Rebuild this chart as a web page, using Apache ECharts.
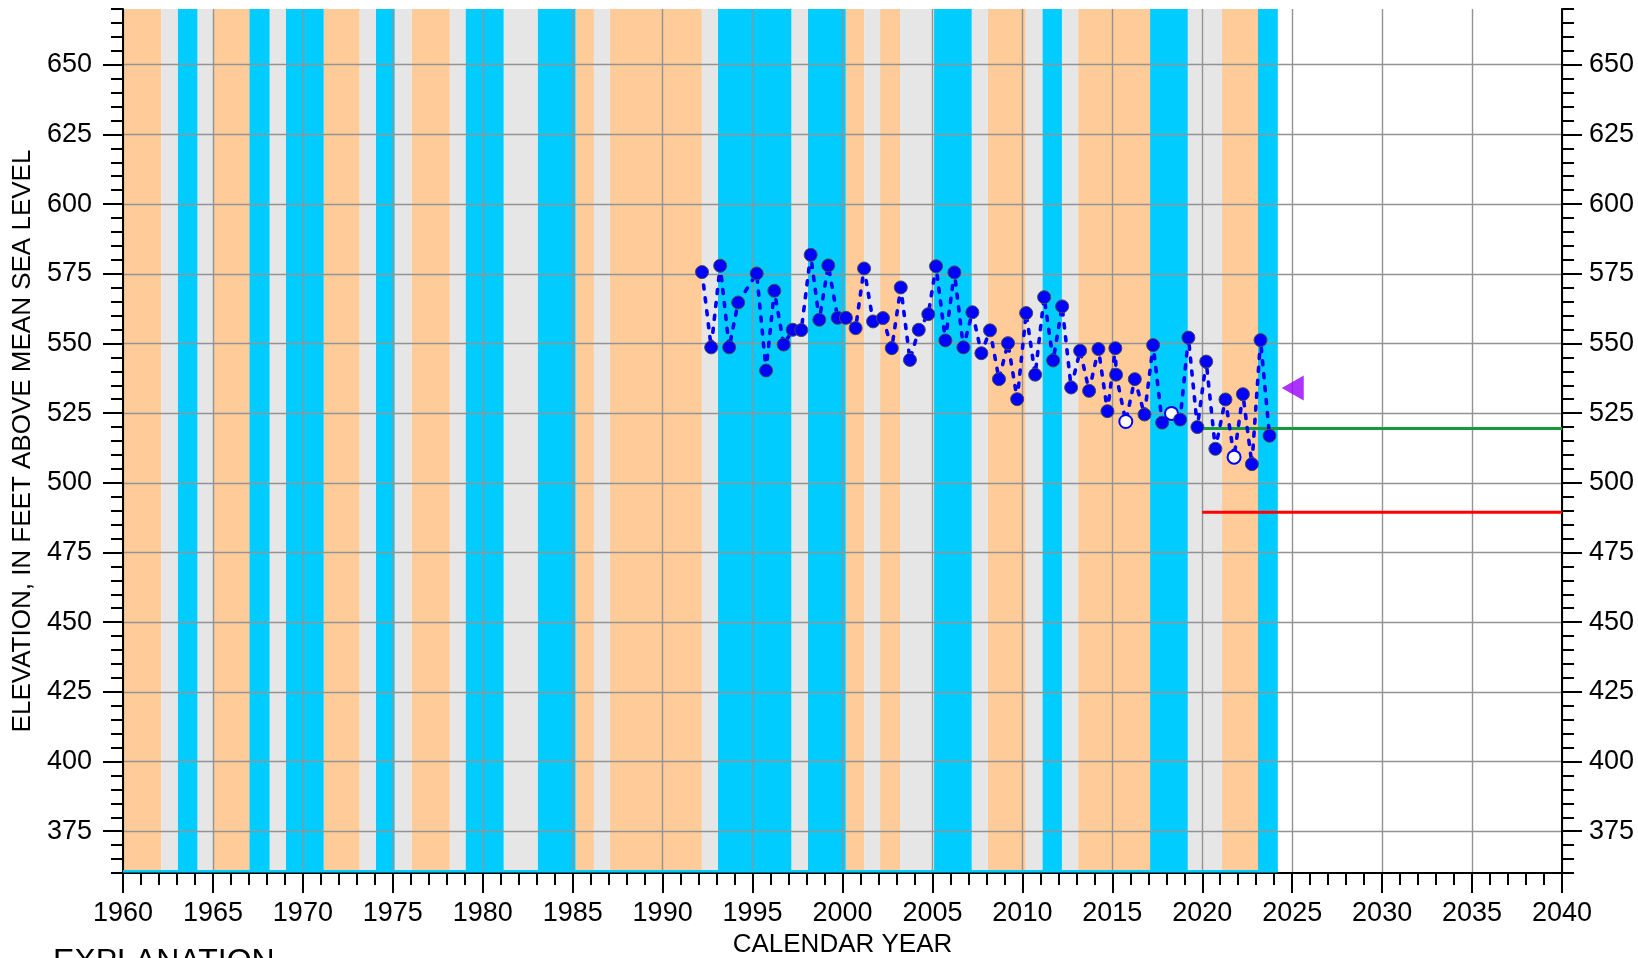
<!DOCTYPE html>
<html>
<head>
<meta charset="utf-8">
<title>Groundwater elevation</title>
<script src="https://cdn.jsdelivr.net/npm/echarts@6/dist/echarts.min.js"></script>
<style>
  html, body { margin: 0; padding: 0; background: #fff; }
  #chart { width: 1638px; height: 958px; }
</style>
</head>
<body>
<div id="chart"></div>
<script>
// measured water levels (decimal year, feet above MSL)
const years = [
  1992.19, 1992.70, 1993.20, 1993.70, 1994.20, 1995.23, 1995.75, 1996.21, 1996.73, 1997.23,
  1997.71, 1998.23, 1998.71, 1999.21, 1999.73, 2000.19, 2000.73, 2001.20, 2001.70, 2002.25,
  2002.74, 2003.24, 2003.75, 2004.24, 2004.77, 2005.20, 2005.72, 2006.22, 2006.72, 2007.22,
  2007.72, 2008.20, 2008.70, 2009.20, 2009.71, 2010.21, 2010.71, 2011.21, 2011.71, 2012.21,
  2012.71, 2013.21, 2013.71, 2014.23, 2014.73, 2015.17, 2015.21, 2015.75, 2016.25, 2016.79,
  2017.27, 2017.77, 2018.29, 2018.77, 2019.23, 2019.73, 2020.22, 2020.73, 2021.29, 2021.77,
  2022.26, 2022.76, 2023.24, 2023.74
]
const levels = [
  575.6, 548.6, 577.9, 548.6, 564.7, 575.1, 540.3, 568.9, 549.6, 554.9,
  554.8, 581.8, 558.5, 578.0, 559.2, 559.2, 555.5, 576.9, 557.9, 559.1,
  548.3, 570.1, 544.1, 554.9, 560.5, 577.7, 551.1, 575.5, 548.6, 561.2,
  546.5, 554.7, 537.2, 550.1, 530.0, 560.9, 538.8, 566.6, 543.9, 563.3,
  534.2, 547.4, 533.0, 548.0, 525.7, 548.3, 538.8, 522.0, 537.2, 524.5,
  549.4, 521.6, 524.9, 522.7, 552.1, 520.0, 543.5, 512.2, 529.9, 509.2,
  531.8, 506.7, 551.2, 516.9
]
// measurements drawn as open circles
const openYears = [2015.75, 2018.29, 2021.77]

// climate bands
const dryPeriods = [
  [1960.0, 1962.13], [1965.03, 1967.03], [1971.16, 1973.16], [1976.04, 1978.17],
  [1985.16, 1986.18], [1987.07, 1992.18], [2000.18, 2001.2], [2002.09, 2003.2],
  [2008.09, 2010.19], [2013.1, 2017.1], [2021.1, 2023.1]
]
const wetPeriods = [
  [1963.04, 1964.15], [1967.03, 1968.16], [1969.05, 1971.16], [1974.05, 1975.11],
  [1979.04, 1981.17], [1983.05, 1985.16], [1993.07, 1997.17], [1998.08, 2000.18],
  [2005.09, 2007.19], [2011.11, 2012.2], [2017.1, 2019.2], [2023.1, 2024.2]
]
const normalPeriods = [
  [1962.13, 1963.04], [1964.15, 1965.03], [1968.16, 1969.05], [1973.16, 1974.05],
  [1975.11, 1976.04], [1978.17, 1979.04], [1981.17, 1983.05], [1986.18, 1987.07],
  [1992.18, 1993.07], [1997.17, 1998.08], [2001.2, 2002.09], [2003.2, 2005.09],
  [2007.19, 2008.09], [2010.19, 2011.11], [2012.2, 2013.1], [2019.2, 2021.1]
]
const stripYears = [1960, 2024.2]

// reference levels
const lineYears = [2020, 2040]
const greenLevel = 519.5
const redLevel = 489.4
const purplePoint = [2025.03, 534]

const yTicks = [375, 400, 425, 450, 475, 500, 525, 550, 575, 600, 625, 650]
const Y_MIN = 360
const Y_MAX = 670

const FONT = '"Liberation Sans", Arial, sans-serif'
const bandColors = ['#FECB99', '#00CCFF', '#E6E6E6']

const bands = []
dryPeriods.forEach(p => bands.push([p[0], p[1], 0]))
wetPeriods.forEach(p => bands.push([p[0], p[1], 1]))
normalPeriods.forEach(p => bands.push([p[0], p[1], 2]))

const axisLine = {show: true, onZero: false, lineStyle: {color: '#000', width: 2}}
const tickStyle = {color: '#000', width: 2}
const gridStyle = {color: '#939393', width: 1.4}
const labelStyle = {fontSize: 27, color: '#000', fontFamily: FONT}
const titleStyle = {fontSize: 26, color: '#000', fontFamily: FONT}

function minorY (position) {
  return {
    type: 'value', position, min: Y_MIN, max: Y_MAX, interval: 5, z: 1,
    axisLine,
    axisTick: {length: 12, lineStyle: tickStyle},
    axisLabel: {show: false},
    splitLine: {show: false},
  }
}

function majorY (position, extra) {
  return Object.assign({
    type: 'value', position, min: Y_MIN, max: Y_MAX, z: 1,
    axisLine: {show: false, onZero: false},
    axisTick: {length: 20, lineStyle: tickStyle, customValues: yTicks},
    axisLabel: Object.assign({customValues: yTicks, margin: position === 'left' ? 31 : 27}, labelStyle),
    splitLine: {show: false},
  }, extra)
}

const openStyle = {color: '#fff', borderColor: '#0000FF', borderWidth: 2}

const chart = echarts.init(document.getElementById('chart'))
chart.setOption({
  animation: false,
  grid: {left: 123, right: 76, top: 9, bottom: 85, outerBoundsMode: 'none'},
  xAxis: {
    type: 'value', min: 1960, max: 2040, interval: 5, z: 1,
    name: 'CALENDAR YEAR', nameLocation: 'middle', nameGap: 57,
    nameTextStyle: titleStyle,
    axisLine,
    axisTick: {length: 20, lineStyle: tickStyle},
    minorTick: {show: true, splitNumber: 5, length: 12, lineStyle: tickStyle},
    axisLabel: Object.assign({margin: 27, formatter: v => String(v)}, labelStyle),
    splitLine: {show: true, lineStyle: gridStyle},
  },
  yAxis: [
    minorY('left'),
    majorY('left', {
      name: 'ELEVATION, IN FEET ABOVE MEAN SEA LEVEL',
      nameLocation: 'middle', nameGap: 84,
      nameTextStyle: titleStyle,
      splitLine: {show: true, lineStyle: gridStyle},
    }),
    minorY('right'),
    majorY('right'),
  ],
  graphic: [{
    type: 'text', left: 53, top: 946,
    style: {text: 'EXPLANATION', fontSize: 32, fill: '#000', fontFamily: FONT},
  }],
  series: [
    {
      type: 'custom', z: 0, silent: true,
      encode: {x: [0, 1]},
      data: bands,
      renderItem: (params, api) => {
        const p0 = api.coord([api.value(0), Y_MAX])
        const p1 = api.coord([api.value(1), Y_MIN])
        return {
          type: 'rect',
          shape: {x: p0[0], y: p0[1], width: p1[0] - p0[0], height: p1[1] - p0[1]},
          style: {fill: bandColors[api.value(2)]},
        }
      },
    },
    {
      type: 'line', z: 2, silent: true, symbol: 'none',
      data: stripYears.map(x => [x, Y_MIN + 0.6]),
      lineStyle: {color: '#00CCFF', width: 2.5},
    },
    {
      type: 'line', z: 3, silent: true, symbol: 'none',
      data: lineYears.map(x => [x, greenLevel]),
      lineStyle: {color: '#16993D', width: 3},
    },
    {
      type: 'line', z: 3, silent: true, symbol: 'none',
      data: lineYears.map(x => [x, redLevel]),
      lineStyle: {color: '#FF0000', width: 3},
    },
    {
      type: 'line', z: 4, silent: true,
      symbol: 'circle', symbolSize: 13,
      data: years.map((x, i) => openYears.includes(x)
        ? {value: [x, levels[i]], itemStyle: openStyle}
        : [x, levels[i]]),
      lineStyle: {color: '#0000FF', width: 3.6, type: [4, 9], cap: 'round'},
      itemStyle: {color: '#0000FF', borderColor: '#4a4a4a', borderWidth: 1},
    },
    {
      type: 'scatter', z: 5, silent: true,
      symbol: 'triangle', symbolRotate: 90, symbolSize: [25, 22],
      data: [purplePoint],
      itemStyle: {color: '#9A00FF'},
    },
  ],
})
</script>
</body>
</html>
